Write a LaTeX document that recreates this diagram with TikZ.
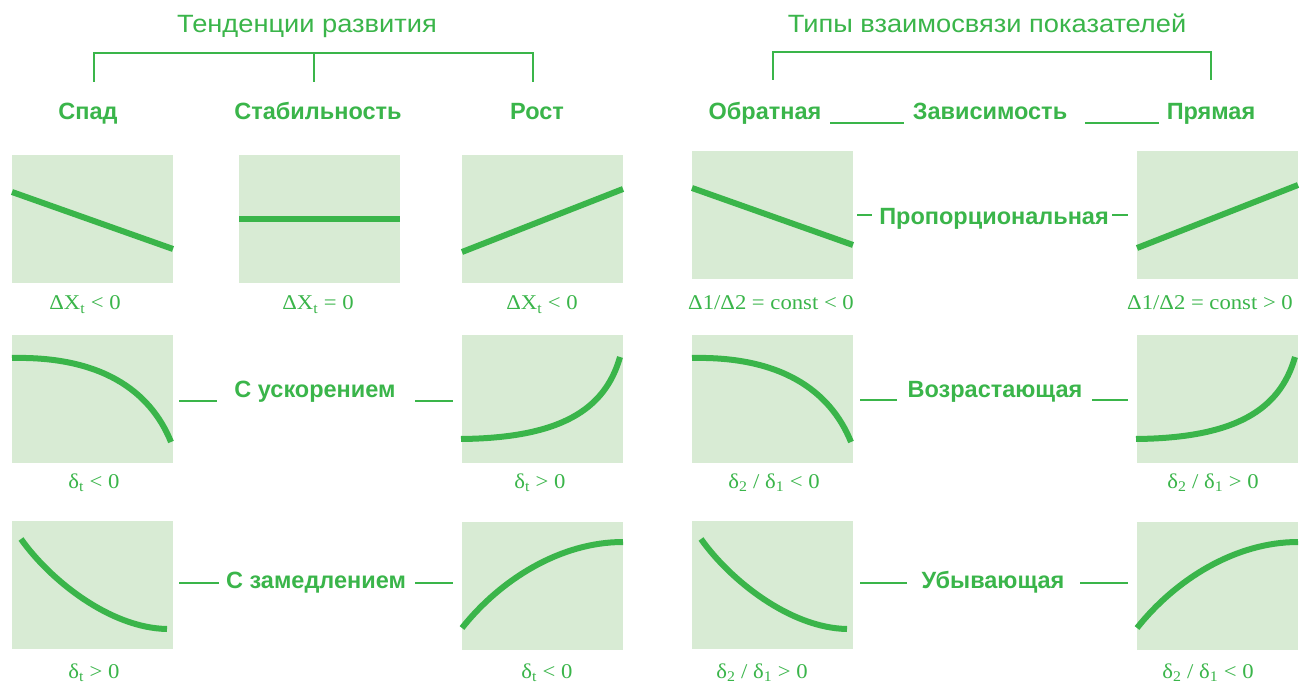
\documentclass[tikz,border=0pt]{standalone}
\usepackage{fontspec}
\setmainfont{Liberation Sans}
\newfontfamily\serf[FakeStretch=1.08]{Liberation Serif}
\newfontfamily\hdf[FakeStretch=1.09]{Liberation Sans}
\usetikzlibrary{calc}
\definecolor{gr}{RGB}{58,181,74}
\definecolor{boxg}{RGB}{216,235,212}
\tikzset{
 panel/.style={fill=boxg,draw=none,minimum width=161pt,minimum height=128pt,inner sep=0pt,anchor=north west},
 curve/.style={gr,line width=6pt},
 head/.style={text=gr,font=\hdf\fontsize{25}{25}\selectfont,anchor=base,inner sep=0pt},
 lab/.style={text=gr,font=\fontsize{23.5}{23.5}\selectfont\bfseries,anchor=base,inner sep=0pt},
 frm/.style={text=gr,font=\serf\fontsize{21}{21}\selectfont,anchor=base,inner sep=0pt},
 brk/.style={gr,line width=2pt},
 dsh/.style={gr,line width=1.5pt},
}
\newcommand\dnline{(0,37) -- (161,94)}
\newcommand\upline{(0,97) -- (161,34)}
\newcommand\accdn{(0,23) .. controls (88,21) and (138,55) .. (159,107)}
\newcommand\accup{(-1,104) .. controls (98,103) and (143,75) .. (158,22)}
\newcommand\decdn{(9,18) .. controls (38,59) and (98,107) .. (155,108)}
\newcommand\decup{(0,106) .. controls (38,58) and (98,20) .. (161,20)}
\begin{document}
\begin{tikzpicture}[x=1pt,y=-1pt]
\useasboundingbox[fill=white] (0,0) rectangle (1306,684);

% headers
\node[head] (hL) at (307,33) {Тенденции развития};
\node[head] (hR) at (987,33) {Типы взаимосвязи показателей};

% labels
\node[lab] (spad) at (88,120) {Спад};
\node[lab] (stab) at (318,120) {Стабильность};
\node[lab] (rost) at (537,120) {Рост};
\node[lab] (obr) at (765,120) {Обратная};
\node[lab] (zav) at (990,120) {Зависимость};
\node[lab] (pry) at (1211,120) {Прямая};

% brackets
\coordinate (bL1) at (94,82);
\coordinate (bL2) at (314,82);
\coordinate (bL3) at (533,82);
\coordinate (bR1) at (773,80);
\coordinate (bR2) at (1211,80);
\draw[brk] (bL1) -- (94,53) -- (533,53) -- (bL3);
\draw[brk] (314,53) -- (bL2);
\draw[brk] (bR1) -- (773,52) -- (1211,52) -- (bR2);
\draw[dsh] (830,123) -- (904,123);
\draw[dsh] (1085,123) -- (1159,123);

% panels
\node[panel] (A1) at (12,155) {};
\node[panel] (B1) at (239,155) {};
\node[panel] (C1) at (462,155) {};
\node[panel] (A2) at (12,335) {};
\node[panel] (C2) at (462,335) {};
\node[panel] (A3) at (12,521) {};
\node[panel] (C3) at (462,522) {};
\node[panel] (D1) at (692,151) {};
\node[panel] (E1) at (1137,151) {};
\node[panel] (D2) at (692,335) {};
\node[panel] (E2) at (1137,335) {};
\node[panel] (D3) at (692,521) {};
\node[panel] (E3) at (1137,522) {};

% curves
\begin{scope}[shift={(A1.north west)}]\draw[curve] \dnline;\end{scope}
\begin{scope}[shift={(B1.north west)}]\draw[curve] (0,64) -- (161,64);\end{scope}
\begin{scope}[shift={(C1.north west)}]\draw[curve] \upline;\end{scope}
\begin{scope}[shift={(D1.north west)}]\draw[curve] \dnline;\end{scope}
\begin{scope}[shift={(E1.north west)}]\draw[curve] \upline;\end{scope}
\begin{scope}[shift={(A2.north west)}]\draw[curve] \accdn;\end{scope}
\begin{scope}[shift={(C2.north west)}]\draw[curve] \accup;\end{scope}
\begin{scope}[shift={(D2.north west)}]\draw[curve] \accdn;\end{scope}
\begin{scope}[shift={(E2.north west)}]\draw[curve] \accup;\end{scope}
\begin{scope}[shift={(A3.north west)}]\draw[curve] \decdn;\end{scope}
\begin{scope}[shift={(C3.north west)}]\draw[curve] \decup;\end{scope}
\begin{scope}[shift={(D3.north west)}]\draw[curve] \decdn;\end{scope}
\begin{scope}[shift={(E3.north west)}]\draw[curve] \decup;\end{scope}

% middle labels
\node[lab] (prop) at (994,225) {Пропорциональная};
\node[lab] (usk) at (315,397) {С ускорением};
\node[lab] (vozr) at (995,397) {Возрастающая};
\node[lab] (zam) at (316,588) {С замедлением};
\node[lab] (ub) at (993,588) {Убывающая};
\draw[dsh] (857,215) -- (872,215);
\draw[dsh] (1112,215) -- (1128,215);
\draw[dsh] (179,401) -- (217,401);
\draw[dsh] (415,401) -- (453,401);
\draw[dsh] (860,400) -- (897,400);
\draw[dsh] (1092,400) -- (1128,400);
\draw[dsh] (179,583) -- (219,583);
\draw[dsh] (415,583) -- (453,583);
\draw[dsh] (860,583) -- (907,583);
\draw[dsh] (1080,583) -- (1128,583);

% formulas
\node[frm] (fA1) at (85,310) {ΔX\textsubscript{t} < 0};
\node[frm] (fB1) at (318,310) {ΔX\textsubscript{t} = 0};
\node[frm] (fC1) at (542,310) {ΔX\textsubscript{t} < 0};
\node[frm] (fD1) at (771,310) {Δ1/Δ2 = const < 0};
\node[frm] (fE1) at (1210,310) {Δ1/Δ2 = const > 0};
\node[frm] (fA2) at (94,488) {δ\textsubscript{t} < 0};
\node[frm] (fC2) at (540,488) {δ\textsubscript{t} > 0};
\node[frm] (fD2) at (774,488) {δ\textsubscript{2} / δ\textsubscript{1} < 0};
\node[frm] (fE2) at (1213,488) {δ\textsubscript{2} / δ\textsubscript{1} > 0};
\node[frm] (fA3) at (94,678) {δ\textsubscript{t} > 0};
\node[frm] (fC3) at (547,678) {δ\textsubscript{t} < 0};
\node[frm] (fD3) at (762,678) {δ\textsubscript{2} / δ\textsubscript{1} > 0};
\node[frm] (fE3) at (1208,678) {δ\textsubscript{2} / δ\textsubscript{1} < 0};
\end{tikzpicture}
\end{document}
